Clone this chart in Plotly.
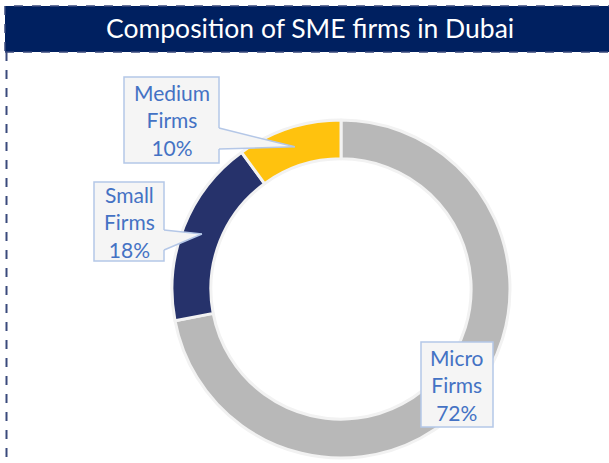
import math
import plotly.graph_objects as go

W, H = 609, 463

# data
firm_types = ["Micro", "Small", "Medium"]
shares = [72, 18, 10]
slice_colors = ["#B8B8B8", "#26326B", "#FFC20E"]

title_text = "Composition of SME firms in Dubai"

# pie placement in screen pixels
cx, cy, R = 341, 289, 169
hole = 0.77

# label boxes (pixel: x0, y0, x1, y1) and pointer base on the box's right edge
boxes = {
    "Micro": (421, 342, 493, 427, None),
    "Small": (94, 182, 164, 261, (230, 250)),
    "Medium": (124, 77, 219, 163, (128, 149)),
}

box_fill = "#F5F5F5"
box_line = "#B4C7E7"
label_color = "#4472C4"


def px(x):
    return x / W


def py(y):
    return 1 - y / H


fig = go.Figure()

fig.add_trace(go.Pie(
    labels=firm_types,
    values=shares,
    hole=hole,
    sort=False,
    direction="clockwise",
    rotation=0,
    textinfo="none",
    marker=dict(colors=slice_colors, line=dict(color="#F2F2F2", width=3)),
    domain=dict(x=[px(cx - R), px(cx + R)], y=[py(cy + R), py(cy - R)]),
    showlegend=False,
))

shapes = []
annotations = []

# title bar with dashed frame
shapes.append(dict(type="rect", xref="paper", yref="paper",
                   x0=px(5), x1=px(612), y0=py(52), y1=py(6),
                   fillcolor="#002060",
                   line=dict(color="#3A4A7C", width=1.5, dash="dash"),
                   layer="above"))
shapes.append(dict(type="line", xref="paper", yref="paper",
                   x0=px(6.5), x1=px(6.5), y0=py(52), y1=py(480),
                   line=dict(color="#3A4A7C", width=2, dash="dash"),
                   layer="above"))
annotations.append(dict(text=title_text, xref="paper", yref="paper",
                        x=px(310), y=py(28), showarrow=False,
                        xanchor="center", yanchor="middle",
                        font=dict(family="Lato", size=26.5, color="white")))

# callout labels, pointer tips from slice midpoints
total = sum(shares)
start = 0.0
r_mid = R * (1 + hole) / 2
for name, val in zip(firm_types, shares):
    mid = (start + val / 2) / total * 2 * math.pi
    start += val
    tipx = cx + r_mid * math.sin(mid)
    tipy = cy - r_mid * math.cos(mid)
    x0, y0, x1, y1, base = boxes[name]
    shapes.append(dict(type="rect", xref="paper", yref="paper",
                       x0=px(x0), x1=px(x1), y0=py(y1), y1=py(y0),
                       fillcolor=box_fill, line=dict(color=box_line, width=1.5),
                       layer="above"))
    if base is not None:
        b0, b1 = base
        path = (f"M {px(x1 - 2)},{py(b0)} L {px(x1 + 0.8)},{py(b0)} L {px(tipx)},{py(tipy)} "
                f"L {px(x1 + 0.8)},{py(b1)} L {px(x1 - 2)},{py(b1)} Z")
        shapes.append(dict(type="path", xref="paper", yref="paper", path=path,
                           fillcolor=box_fill, line=dict(width=0), layer="above"))
        for b in base:
            shapes.append(dict(type="line", xref="paper", yref="paper",
                               x0=px(x1), y0=py(b), x1=px(tipx), y1=py(tipy),
                               line=dict(color=box_line, width=1.5), layer="above"))
    annotations.append(dict(text=f"{name}<br>Firms<br>{val}%",
                            xref="paper", yref="paper",
                            x=px((x0 + x1) / 2), y=py((y0 + y1) / 2),
                            showarrow=False, xanchor="center", yanchor="middle",
                            font=dict(family="Lato", size=21, color=label_color)))

fig.update_layout(
    width=W, height=H,
    margin=dict(l=0, r=0, t=0, b=0),
    paper_bgcolor="white",
    plot_bgcolor="white",
    shapes=shapes,
    annotations=annotations,
)

# drop the default page margin so the figure sits at the window's corner
fig.write_html("out.html", config={"displayModeBar": False},
               post_script="document.body.style.margin='0';")
